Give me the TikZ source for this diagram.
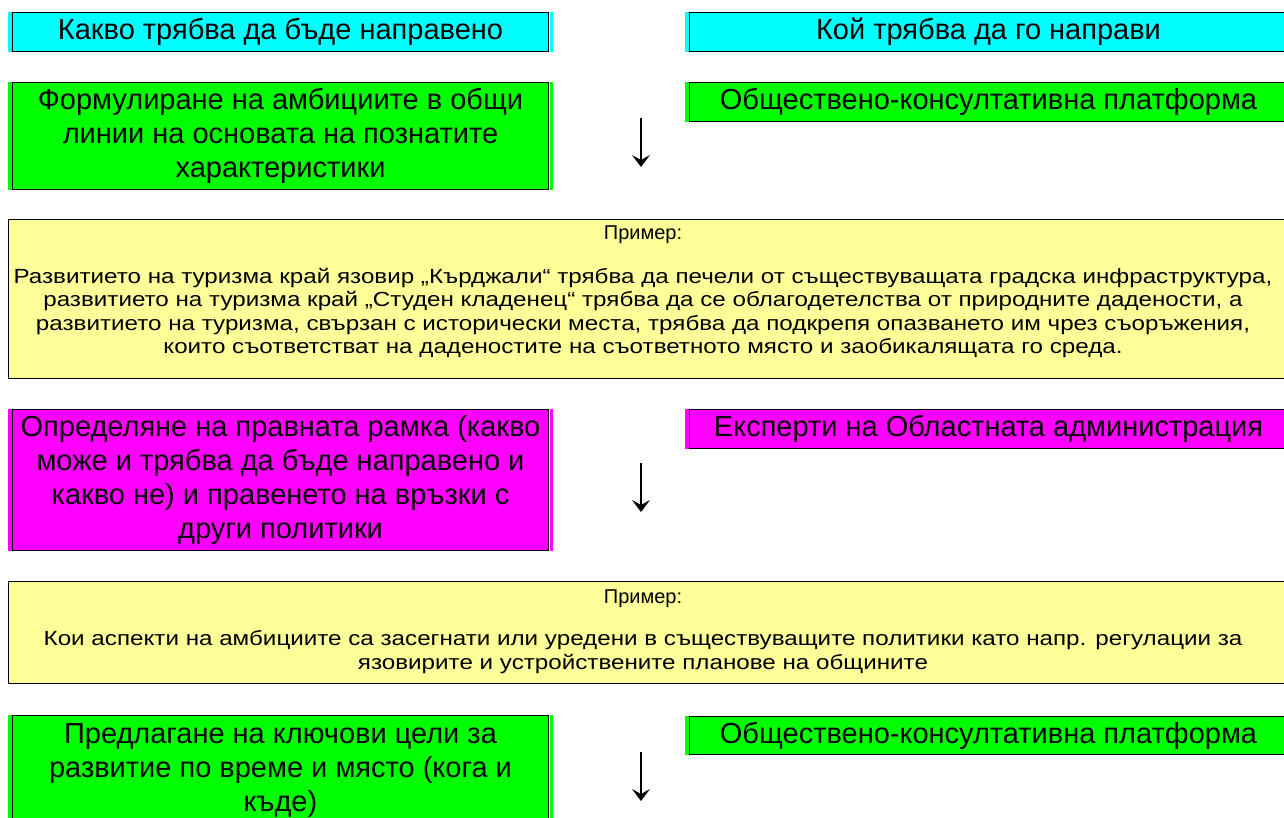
\documentclass[tikz,border=0pt]{standalone}
\usepackage{fontspec}
\setmainfont{Liberation Sans}
\newfontfamily\exfont[FakeStretch=1.18]{Liberation Sans}
\usetikzlibrary{arrows.meta}

\definecolor{boxcyan}{HTML}{00FFFF}
\definecolor{boxgreen}{HTML}{00FF00}
\definecolor{boxmagenta}{HTML}{FF00FF}
\definecolor{boxyellow}{HTML}{FFFF99}

\tikzset{
  panel/.style={draw, line width=1pt, fill=#1, anchor=north west, inner sep=0pt,
    align=center, font=\fontsize{29}{34}\selectfont},
  example/.style={draw, line width=1pt, fill=boxyellow, anchor=north west, inner sep=0pt},
  exhead/.style={inner sep=0pt, font=\fontsize{20}{23.3}\selectfont},
  exbody/.style={inner sep=0pt, align=center, font=\exfont\fontsize{20.5}{23.3}\selectfont},
  flow/.style={line width=1.5pt, -{Stealth[length=12pt,width=18pt,inset=5pt]}}
}

\begin{document}
\begin{tikzpicture}[x=1pt,y=-1pt]

\useasboundingbox (0,0) rectangle (1284,817);
\clip (0,0) rectangle (1284,817);

% header row
\node [panel=boxcyan, minimum width=536pt, minimum height=39pt] (what) at (12,12) {Какво трябва да бъде направено};
\node [panel=boxcyan, minimum width=598pt, minimum height=39pt] (who) at (689,12) {Кой трябва да го направи};

% step 1
\node [panel=boxgreen, minimum width=536pt, minimum height=107pt] (form) at (12,82)
  {Формулиране на амбициите в общи\\линии на основата на познатите\\характеристики};
\node [panel=boxgreen, minimum width=598pt, minimum height=39pt] (pub1) at (689,82) {Обществено-консултативна платформа};

\node [example, minimum width=1279pt, minimum height=159pt] (ex1) at (8,219) {};
\node [exhead] (ex1head) at (643,235) {Пример:};
\node [exbody] (ex1body) at (643,313)
  {Развитието на туризма край язовир „Кърджали“ трябва да печели от съществуващата градска инфраструктура,\\
   развитието на туризма край „Студен кладенец“ трябва да се облагодетелства от природните дадености, а\\
   развитието на туризма, свързан с исторически места, трябва да подкрепя опазването им чрез съоръжения,\\
   които съответстват на даденостите на съответното място и заобикалящата го среда.};

% step 2
\node [panel=boxmagenta, minimum width=536pt, minimum height=141pt] (legal) at (12,409)
  {Определяне на правната рамка (какво\\може и трябва да бъде направено и\\какво не) и правенето на връзки с\\други политики};
\node [panel=boxmagenta, minimum width=598pt, minimum height=39pt] (experts) at (689,409) {Експерти на Областната администрация};

\node [example, minimum width=1279pt, minimum height=102pt] (ex2) at (8,581) {};
\node [exhead] (ex2head) at (643,599) {Пример:};
\node [exbody] (ex2body) at (643,652)
  {Кои аспекти на амбициите са засегнати или уредени в съществуващите политики като напр. регулации за\\
   язовирите и устройствените планове на общините};

% step 3
\node [panel=boxgreen, minimum width=536pt, minimum height=110pt] (goals) at (12,715)
  {Предлагане на ключови цели за\\развитие по време и място (кога и\\къде)};
\node [panel=boxgreen, minimum width=598pt, minimum height=38pt] (pub2) at (689,716) {Обществено-консултативна платформа};

% fill sticks out at the sides
\foreach \b/\c in {what/boxcyan, who/boxcyan, form/boxgreen, pub1/boxgreen,
                   legal/boxmagenta, experts/boxmagenta, goals/boxgreen, pub2/boxgreen} {
  \fill [\c] ([xshift=-4pt]\b.north west) rectangle ([xshift=-0.5pt]\b.south west);
  \fill [\c] ([xshift=0.5pt]\b.north east) rectangle ([xshift=4pt]\b.south east);
}

% down arrows
\foreach \i/\y in {1/118, 2/463, 3/752} {
  \coordinate (top\i) at (641,\y);
  \coordinate (bot\i) at (641,\y+49);
  \draw [flow] (top\i) -- (bot\i);
}

\end{tikzpicture}
\end{document}
